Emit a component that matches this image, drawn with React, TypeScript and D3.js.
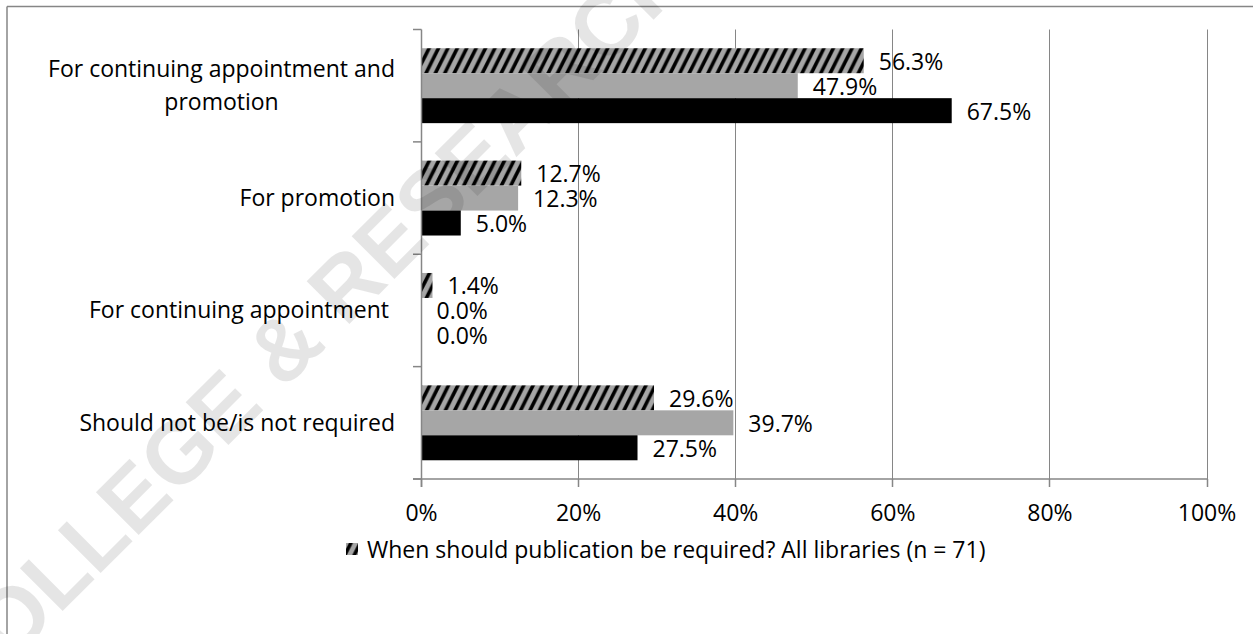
import React from 'react';
import * as d3 from 'd3';

const categories = [
  'For continuing appointment and promotion',
  'For promotion',
  'For continuing appointment',
  'Should not be/is not required',
];
const categoryLines = [
  ['For continuing appointment and', 'promotion'],
  ['For promotion'],
  ['For continuing appointment '],
  ['Should not be/is not required'],
];
const seriesKeys = ['allLibraries', 'gray', 'black'];
const allLibraries = [56.3, 12.7, 1.4, 29.6];
const seriesGray = [47.9, 12.3, 0.0, 39.7];
const seriesBlack = [67.5, 5.0, 0.0, 27.5];
const xTicks = [0, 20, 40, 60, 80, 100];
const legendLabel = 'When should publication be required? All libraries (n = 71)';
const watermark = 'COLLEGE & RESEARCH';

const W = 1253;
const H = 634;
const FONT = "'Open Sans', 'Noto Sans', sans-serif";
const FS = 23;
const GRID = '#868686';

function measure(text: string): number {
  try {
    const c = document.createElement('canvas').getContext('2d');
    if (!c) return text.length * FS * 0.5;
    c.font = `${FS}px 'Open Sans'`;
    return c.measureText(text).width;
  } catch (e) {
    return text.length * FS * 0.5;
  }
}

export default function App() {
  const x = d3.scaleLinear().domain([0, 100]).range([421.5, 1207]);
  const y = d3.scaleBand<string>().domain(categories).range([29.5, 479]);
  const inner = d3
    .scaleBand<string>()
    .domain(seriesKeys)
    .range([0, y.bandwidth()])
    .paddingInner(0)
    .paddingOuter(0.75);

  const series = [
    { key: 'allLibraries', values: allLibraries, fill: 'url(#hatch)' },
    { key: 'gray', values: seriesGray, fill: '#a6a6a6' },
    { key: 'black', values: seriesBlack, fill: '#000000' },
  ];

  const snap = (v: number) => Math.floor(v) + 0.5;
  const labelRight = 395;
  const x0 = snap(x(0));
  const yTop = y.range()[0];
  const yBot = y.range()[1];
  const pw = 9.4;
  const ph = 18.8;
  const sw = 4;

  return (
    <svg
      width={W}
      height={H}
      style={{ position: 'absolute', left: 0, top: 0, background: '#fff' }}
      fontFamily={FONT}
    >
      <defs>
        <pattern id="hatch" patternUnits="userSpaceOnUse" width={pw} height={ph}>
          <rect x={0} y={0} width={pw} height={ph} fill="#a6a6a6" />
          <polygon points={`0,${ph} ${sw},${ph} ${pw + sw},0 ${pw},0`} fill="#000" />
          <polygon points={`${-pw},${ph} ${-pw + sw},${ph} ${sw},0 0,0`} fill="#000" />
        </pattern>
      </defs>
      <rect x={0} y={0} width={W} height={H} fill="#fff" />
      {/* chart border */}
      <line x1={7} y1={6.5} x2={W} y2={6.5} stroke={GRID} strokeWidth={1.5} />
      <line x1={7} y1={6.5} x2={7} y2={H} stroke={GRID} strokeWidth={1.5} />

      {/* gridlines */}
      {xTicks.filter((t) => t > 0).map((t) => (
        <line key={t} x1={snap(x(t))} x2={snap(x(t))} y1={yTop} y2={yBot} stroke={GRID} strokeWidth={1} />
      ))}

      {/* bars */}
      {series.map((s) =>
        categories.map((c, i) => {
          const by = (y(c) as number) + (inner(s.key) as number);
          const v = s.values[i];
          return v > 0 ? (
            <rect key={s.key + c} x={x(0)} y={by} width={x(v) - x(0)} height={inner.bandwidth()} fill={s.fill} />
          ) : null;
        })
      )}

      {/* axes */}
      <line x1={x0} x2={x0} y1={yTop} y2={yBot + 8} stroke={GRID} strokeWidth={1.5} />
      <line x1={413} x2={x(100)} y1={yBot} y2={yBot} stroke={GRID} strokeWidth={1.5} />
      {[...categories.map((c) => y(c) as number), yBot].map((v, i) => (
        <line key={'ct' + i} x1={413} x2={x0} y1={v} y2={v} stroke={GRID} strokeWidth={1.5} />
      ))}
      {xTicks.map((t) => (
        <line key={'xt' + t} x1={snap(x(t))} x2={snap(x(t))} y1={yBot} y2={yBot + 8} stroke={GRID} strokeWidth={1.5} />
      ))}

      {/* x tick labels */}
      {xTicks.map((t) => (
        <text key={'xl' + t} x={x(t)} y={521} textAnchor="middle" fontSize={FS} fill="#000">
          {t + '%'}
        </text>
      ))}

      {/* category labels */}
      {categories.map((c, i) => {
        const lines = categoryLines[i];
        const cy = (y(c) as number) + y.bandwidth() / 2;
        const lh = 33;
        if (lines.length === 1) {
          return (
            <text key={'cl' + i} x={labelRight} y={cy + 8} textAnchor="end" fontSize={FS} fill="#000" style={{ whiteSpace: 'pre' }}>
              {lines[0]}
            </text>
          );
        }
        const wMax = Math.max(...lines.map(measure));
        const cx = labelRight - wMax / 2;
        return (
          <g key={'cl' + i}>
            {lines.map((l, j) => (
              <text key={j} x={cx} y={cy + 8 + (j - (lines.length - 1) / 2) * lh} textAnchor="middle" fontSize={FS} fill="#000">
                {l}
              </text>
            ))}
          </g>
        );
      })}

      {/* data labels */}
      {series.map((s) =>
        categories.map((c, i) => {
          const by = (y(c) as number) + (inner(s.key) as number) + inner.bandwidth() / 2;
          const v = s.values[i];
          return (
            <text key={'dl' + s.key + c} x={x(v) + 15} y={by + 9} fontSize={FS} fill="#000">
              {v.toFixed(1) + '%'}
            </text>
          );
        })
      )}

      {/* legend */}
      <rect x={346} y={543} width={12} height={12} fill="url(#hatch)" />
      <text x={367} y={558} fontSize={FS} fill="#000">
        {legendLabel}
      </text>

      {/* watermark */}
      <text
        transform="translate(308,322) rotate(-45)"
        textAnchor="middle"
        dy="0.35em"
        fontFamily="'Liberation Sans', Arial, sans-serif"
        fontWeight="bold"
        fontSize={88}
        fill="#000"
        fillOpacity={0.1}
      >
        {watermark}
      </text>
    </svg>
  );
}
